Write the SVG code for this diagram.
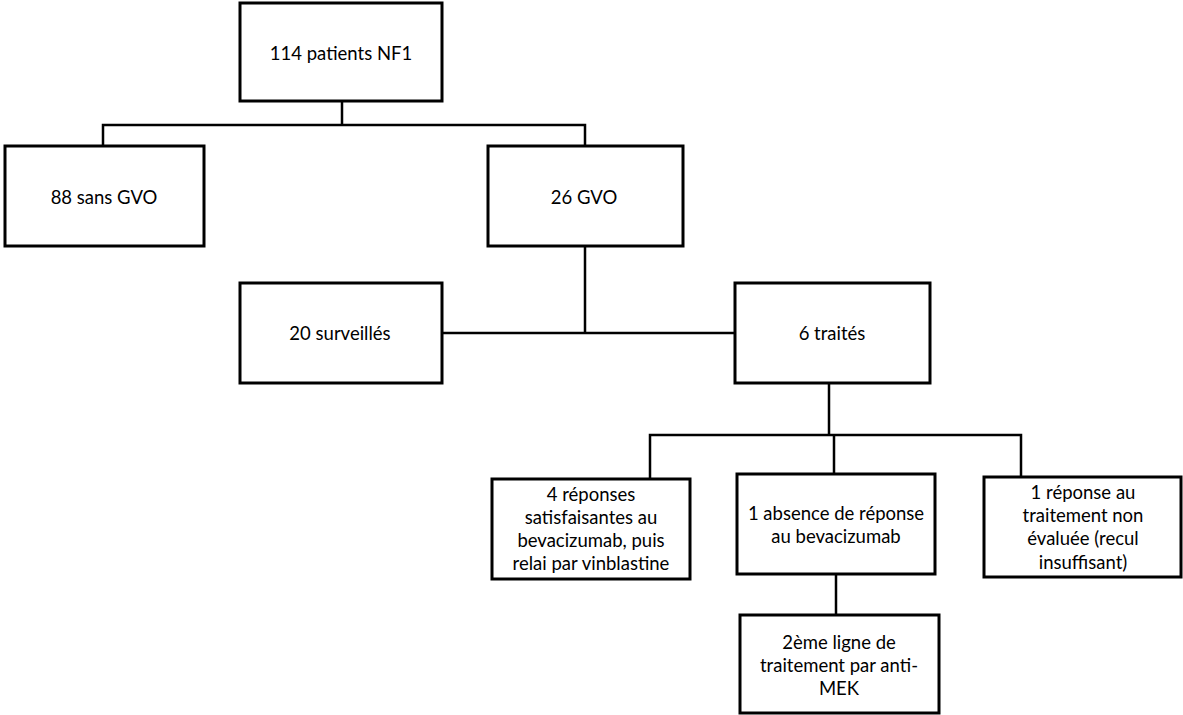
<svg xmlns="http://www.w3.org/2000/svg" width="1183" height="715" viewBox="0 0 1183 715">
<style>
.box{fill:#fff;stroke:#000;stroke-width:3}
.con{fill:none;stroke:#000;stroke-width:2.5}
text{font-family:Lato,"Liberation Sans",sans-serif;font-size:18.5px;fill:#000;text-anchor:middle;dominant-baseline:central}
</style>
<rect width="1183" height="715" fill="#fff"/>
<g id="connectors">
<path class="con" d="M342 101V125M103 146V125H585V146"/>
<path class="con" d="M585 246V333M442 333H735"/>
<path class="con" d="M829 383V435M650 479V435H1021V477M834 435V474"/>
<path class="con" d="M836 574V615"/>
</g>
<g id="n1"><rect class="box" x="240" y="3" width="202" height="98"/><text x="341" y="53">114 patients NF1</text></g>
<g id="n2"><rect class="box" x="5" y="146" width="199" height="100"/><text x="104" y="197">88 sans GVO</text></g>
<g id="n3"><rect class="box" x="488" y="146" width="195" height="100"/><text x="584" y="197">26 GVO</text></g>
<g id="n4"><rect class="box" x="240" y="283" width="202" height="100"/><text x="340" y="333">20 surveillés</text></g>
<g id="n5"><rect class="box" x="735" y="283" width="195" height="100"/><text x="832" y="333">6 traités</text></g>
<g id="n6"><rect class="box" x="492" y="479" width="198" height="100"/>
<text x="591" y="494">4 réponses</text><text x="591" y="517">satisfaisantes au</text><text x="591" y="540">bevacizumab, puis</text><text x="591" y="563">relai par vinblastine</text></g>
<g id="n7"><rect class="box" x="737" y="474" width="198" height="100"/>
<text x="836" y="513">1 absence de réponse</text><text x="836" y="536">au bevacizumab</text></g>
<g id="n8"><rect class="box" x="984" y="477" width="197" height="100"/>
<text x="1083" y="492">1 réponse au</text><text x="1083" y="515">traitement non</text><text x="1083" y="538">évaluée (recul</text><text x="1083" y="562">insuffisant)</text></g>
<g id="n9"><rect class="box" x="740" y="615" width="199" height="98"/>
<text x="839" y="642">2ème ligne de</text><text x="839" y="665">traitement par anti-</text><text x="839" y="688">MEK</text></g>
</svg>
